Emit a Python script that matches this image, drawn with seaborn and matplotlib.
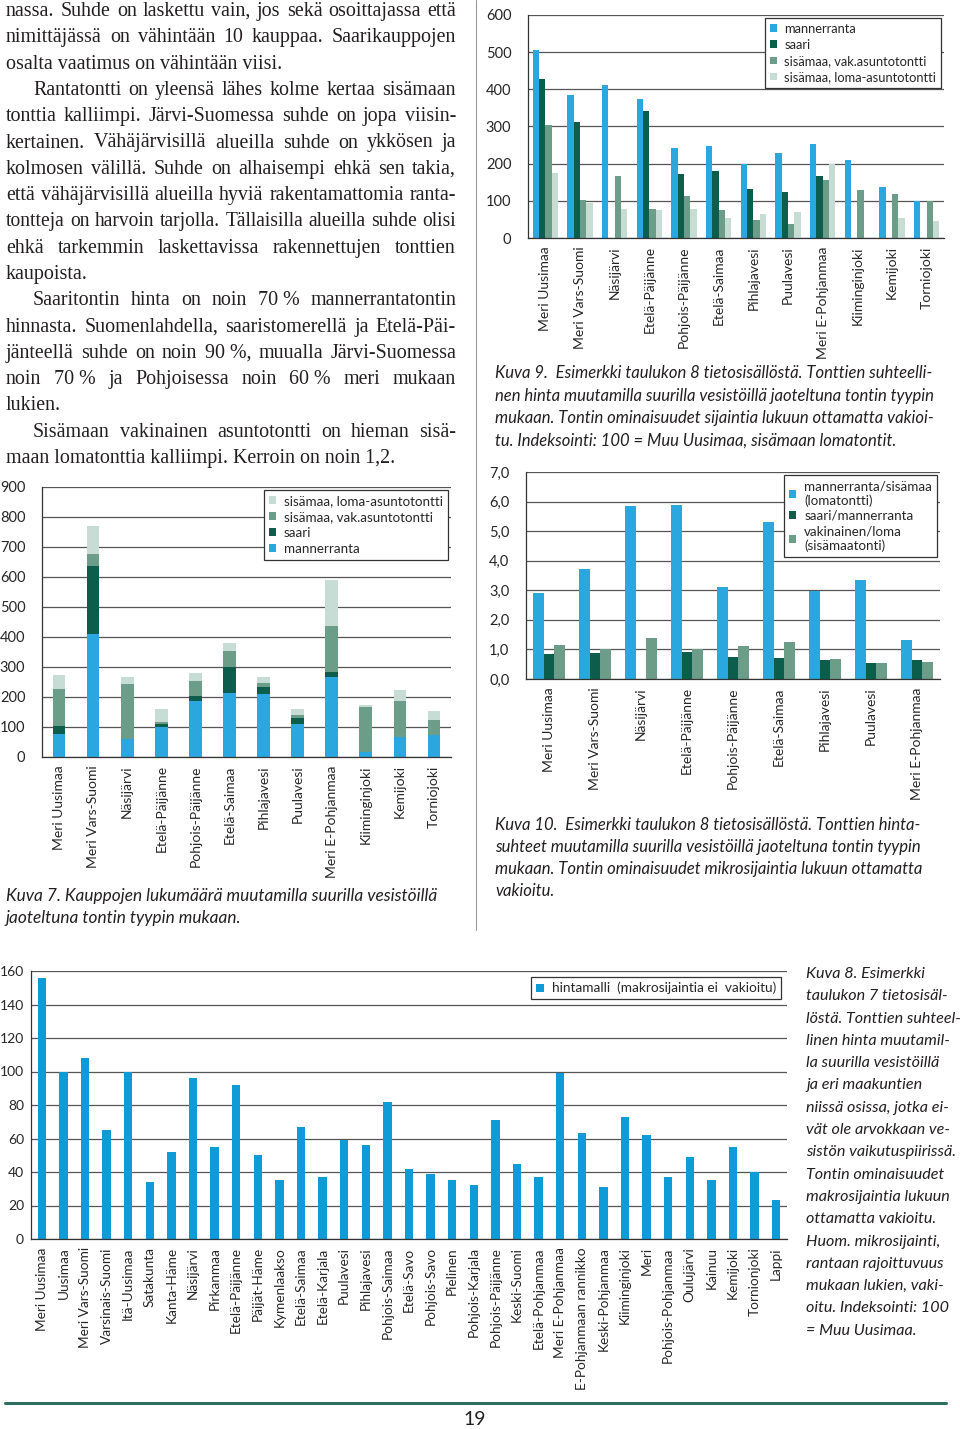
import matplotlib
matplotlib.use("Agg")
import matplotlib.pyplot as plt
from matplotlib.patches import Patch
from matplotlib.lines import Line2D
import numpy as np
import pandas as pd
import seaborn as sns

nan = np.nan

# ---------------- data ----------------
cats7 = ['Meri Uusimaa', 'Meri Vars-Suomi', 'Näsijärvi', 'Etelä-Päijänne',
         'Pohjois-Päijänne', 'Etelä-Saimaa', 'Pihlajavesi', 'Puulavesi',
         'Meri E-Pohjanmaa', 'Kiiminginjoki', 'Kemijoki', 'Torniojoki']
manner7 = [78, 411, 59, 100, 186, 214, 210, 111, 267, 17, 67, 72]
saari7 = [26, 225, 0, 9, 17, 85, 22, 18, 15, 0, 0, 0]
vak7 = [124, 42, 185, 9, 51, 53, 14, 12, 154, 150, 119, 50]
loma7 = [44, 93, 24, 43, 25, 28, 22, 18, 155, 7, 36, 32]
series7 = ['sisämaa, loma-asuntotontti', 'sisämaa, vak.asuntotontti', 'saari', 'mannerranta']
yticks7 = [0, 100, 200, 300, 400, 500, 600, 700, 800, 900]

cats9 = cats7
manner9 = [507, 386, 411, 373, 243, 247, 200, 228, 254, 210, 136, 100]
saari9 = [429, 311, nan, 342, 173, 181, 132, 125, 167, nan, nan, nan]
vak9 = [304, 101, 167, 79, 113, 75, 48, 38, 155, 130, 119, 100]
loma9 = [176, 94, 77, 74, 77, 55, 65, 69, 200, nan, 53, 45]
series9 = ['mannerranta', 'saari', 'sisämaa, vak.asuntotontti', 'sisämaa, loma-asuntotontti']
yticks9 = [0, 100, 200, 300, 400, 500, 600]

cats10 = cats7[:9]
ratio_manner = [2.90, 3.71, 5.84, 5.87, 3.12, 5.30, 2.99, 3.36, 1.33]
ratio_saari = [0.85, 0.89, nan, 0.92, 0.74, 0.72, 0.64, 0.53, 0.65]
ratio_vak = [1.16, 1.00, 1.39, 1.00, 1.11, 1.25, 0.67, 0.53, 0.58]
series10 = ['mannerranta/sisämaa\n(lomatontti)', 'saari/mannerranta', 'vakinainen/loma\n(sisämaatonti)']
yticks10 = [0, 1, 2, 3, 4, 5, 6, 7]
yticklabels10 = ['0,0', '1,0', '2,0', '3,0', '4,0', '5,0', '6,0', '7,0']

cats8 = ['Meri Uusimaa', 'Uusimaa', 'Meri Vars-Suomi', 'Varsinais-Suomi', 'Itä-Uusimaa',
         'Satakunta', 'Kanta-Häme', 'Näsijärvi', 'Pirkanmaa', 'Etelä-Päijänne',
         'Päijät-Häme', 'Kymenlaakso', 'Etelä-Saimaa', 'Etelä-Karjala', 'Puulavesi',
         'Pihlajavesi', 'Pohjois-Saimaa', 'Etelä-Savo', 'Pohjois-Savo', 'Pielinen',
         'Pohjois-Karjala', 'Pohjois-Päijänne', 'Keski-Suomi', 'Etelä-Pohjanmaa',
         'Meri E-Pohjanmaa', 'E-Pohjanmaan rannikko', 'Keski-Pohjanmaa', 'Kiiminginjoki',
         'Meri', 'Pohjois-Pohjanmaa', 'Oulujärvi', 'Kainuu', 'Kemijoki', 'Tornionjoki', 'Lappi']
hinta8 = [156, 100, 108, 65, 100, 34, 52, 96, 55, 92, 50, 35, 67, 37, 59, 56, 82, 42,
          39, 35, 32, 71, 45, 37, 99, 63, 31, 73, 62, 37, 49, 35, 55, 40, 23]
series8 = 'hintamalli  (makrosijaintia ei  vakioitu)'
yticks8 = [0, 20, 40, 60, 80, 100, 120, 140, 160]

body_lines = [
    ("nassa. Suhde on laskettu vain, jos sekä osoittajassa että", True, False),
    ("nimittäjässä on vähintään 10 kauppaa. Saarikauppojen", True, False),
    ("osalta vaatimus on vähintään viisi.", False, False),
    ("Rantatontti on yleensä lähes kolme kertaa sisämaan", True, True),
    ("tonttia kalliimpi. Järvi-Suomessa suhde on jopa viisin-", True, False),
    ("kertainen. Vähäjärvisillä alueilla suhde on ykkösen ja", True, False),
    ("kolmosen välillä. Suhde on alhaisempi ehkä sen takia,", True, False),
    ("että vähäjärvisillä alueilla hyviä rakentamattomia ranta-", True, False),
    ("tontteja on harvoin tarjolla. Tällaisilla alueilla suhde olisi", True, False),
    ("ehkä tarkemmin laskettavissa rakennettujen tonttien", True, False),
    ("kaupoista.", False, False),
    ("Saaritontin hinta on noin 70\u00a0% mannerrantatontin", True, True),
    ("hinnasta. Suomenlahdella, saaristomerellä ja Etelä-Päi-", True, False),
    ("jänteellä suhde on noin 90\u00a0%, muualla Järvi-Suomessa", True, False),
    ("noin 70\u00a0% ja Pohjoisessa noin 60\u00a0% meri mukaan", True, False),
    ("lukien.", False, False),
    ("Sisämaan vakinainen asuntotontti on hieman sisä-", True, True),
    ("maan lomatonttia kalliimpi. Kerroin on noin 1,2.", False, False),
]

cap7 = ["Kuva 7. Kauppojen lukumäärä muutamilla suurilla vesistöillä",
        "jaoteltuna tontin tyypin mukaan."]
cap9 = ["Kuva 9.  Esimerkki taulukon 8 tietosisällöstä. Tonttien suhteelli-",
        "nen hinta muutamilla suurilla vesistöillä jaoteltuna tontin tyypin",
        "mukaan. Tontin ominaisuudet sijaintia lukuun ottamatta vakioi-",
        "tu. Indeksointi: 100 = Muu Uusimaa, sisämaan lomatontit."]
cap10 = ["Kuva 10.  Esimerkki taulukon 8 tietosisällöstä. Tonttien hinta-",
         "suhteet muutamilla suurilla vesistöillä jaoteltuna tontin tyypin",
         "mukaan. Tontin ominaisuudet mikrosijaintia lukuun ottamatta",
         "vakioitu."]
cap8 = ["Kuva 8. Esimerkki", "taulukon 7 tietosisäl-", "löstä. Tonttien suhteel-",
        "linen hinta muutamil-", "la suurilla vesistöillä", "ja eri maakuntien",
        "niissä osissa, jotka ei-", "vät ole arvokkaan ve-", "sistön vaikutuspiirissä.",
        "Tontin ominaisuudet", "makrosijaintia lukuun", "ottamatta vakioitu.",
        "Huom. mikrosijainti,", "rantaan rajoittuvuus", "mukaan lukien, vaki-",
        "oitu. Indeksointi: 100", "= Muu Uusimaa."]
page_no = "19"

# ---------------- style ----------------
sns.set_style("white")
plt.rcParams['font.family'] = ['Lato', 'DejaVu Sans']
plt.rcParams['axes.linewidth'] = 0.9

BLUE = '#2AA7DF'
BLUE2 = '#0E9BD8'
DARK = '#0C5D4B'
MID = '#6C9D89'
LIGHT = '#C6DCD4'
GRID = '#555555'

W, H = 960, 1429
fig = plt.figure(figsize=(W / 100, H / 100), dpi=100)
renderer = fig.canvas.get_renderer()


def fx(x):
    return x / W


def fy(y):
    return 1 - y / H


def axes_px(l, t, r, b):
    return fig.add_axes([fx(l), fy(b), (r - l) / W, (b - t) / H])


def style(ax, cats, ymax, yticks, ylabels, xsize=10, ysize=10.5, ypad=6, ylen=4):
    n = len(cats)
    ax.set_xlim(-0.5, n - 0.5)
    ax.set_ylim(0, ymax)
    ax.set_yticks(yticks)
    ax.set_yticklabels(ylabels)
    ax.yaxis.grid(True, color=GRID, lw=0.9)
    ax.xaxis.grid(False)
    ax.set_axisbelow(True)
    for s in ['top', 'right']:
        ax.spines[s].set_visible(False)
    for s in ['left', 'bottom']:
        ax.spines[s].set_color('#333333')
    ax.set_xlabel('')
    ax.set_ylabel('')
    ax.set_xticks(np.arange(n))
    ax.set_xticklabels(cats, rotation=90, fontsize=xsize)
    ax.set_xticks(np.arange(-0.5, n), minor=True)
    ax.tick_params(axis='x', which='major', length=0, pad=6)
    ax.tick_params(axis='x', which='minor', length=4, color='#333333', width=0.8)
    ax.tick_params(axis='y', length=ylen, pad=ypad, labelsize=ysize, color='#333333', width=0.8)


def legend(ax, labels, colors, fs=9.5, pad=0.25, spacing=0.3):
    handles = [Patch(facecolor=c, edgecolor='none') for c in colors]
    lg = ax.legend(handles, labels, loc='upper right', bbox_to_anchor=(1, 1),
                   fontsize=fs, frameon=True, fancybox=False, framealpha=1,
                   edgecolor='#333333', handlelength=0.55, handleheight=0.55,
                   handletextpad=0.6, labelspacing=spacing, borderpad=0.35,
                   borderaxespad=pad)
    lg.get_frame().set_linewidth(0.9)
    return lg


# ---------------- Kuva 7 (stacked) ----------------
ax7 = axes_px(42, 487, 451, 757)
m = np.array(manner7, float)
s = np.array(saari7, float)
v = np.array(vak7, float)
lo = np.array(loma7, float)
stack_levels = [m + s + v + lo, m + s + v, m + s, m]
stack_colors = [LIGHT, MID, DARK, BLUE]
for vals, col in zip(stack_levels, stack_colors):
    sns.barplot(x=cats7, y=vals, color=col, width=0.37, saturation=1,
                linewidth=0, ax=ax7, errorbar=None)
style(ax7, cats7, 900, yticks7, [str(t) for t in yticks7], ypad=8)
legend(ax7, series7, [LIGHT, MID, DARK, BLUE], fs=9.6)

# ---------------- Kuva 9 (grouped) ----------------
ax9 = axes_px(528, 15, 944, 238)
df9 = pd.DataFrame({
    'cat': cats9 * 4,
    'series': sum([[sname] * len(cats9) for sname in series9], []),
    'val': manner9 + saari9 + vak9 + loma9,
})
sns.barplot(data=df9, x='cat', y='val', hue='series', hue_order=series9,
            palette=[BLUE, DARK, MID, LIGHT], width=0.74, saturation=1,
            linewidth=0, errorbar=None, legend=False, ax=ax9, order=cats9)
style(ax9, cats9, 600, yticks9, [str(t) for t in yticks9], ypad=8)
legend(ax9, series9, [BLUE, DARK, MID, LIGHT], fs=9.3, pad=0.25, spacing=0.32)

# ---------------- Kuva 10 (grouped ratios) ----------------
ax10 = axes_px(526, 472, 940, 679)
df10 = pd.DataFrame({
    'cat': cats10 * 3,
    'series': sum([[sname] * len(cats10) for sname in series10], []),
    'val': ratio_manner + ratio_saari + ratio_vak,
})
sns.barplot(data=df10, x='cat', y='val', hue='series', hue_order=series10,
            palette=[BLUE, DARK, MID], width=0.68, saturation=1,
            linewidth=0, errorbar=None, legend=False, ax=ax10, order=cats10)
style(ax10, cats10, 7, yticks10, yticklabels10, ypad=8)
legend(ax10, series10, [BLUE, DARK, MID], fs=9.6, pad=0.25, spacing=0.25)

# ---------------- Kuva 8 (single series) ----------------
ax8 = axes_px(31, 971, 787, 1239)
sns.barplot(x=cats8, y=hinta8, color=BLUE2, width=0.39, saturation=1,
            linewidth=0, errorbar=None, ax=ax8)
style(ax8, cats8, 160, yticks8, [str(t) for t in yticks8], xsize=9.8,
      ysize=10, ypad=2, ylen=3)
legend(ax8, [series8], [BLUE2], fs=9.8, pad=0.45)

# ---------------- body text ----------------
SERIF = ['Liberation Serif', 'DejaVu Serif']
BODY_SIZE = 14.4


def put_line(text, x0, x1, y, justify, size, **kw):
    full = fig.text(fx(x0), fy(y), text, va='baseline', ha='left', fontsize=size, **kw)
    wfull = full.get_window_extent(renderer).width
    if wfull > (x1 - x0):
        size = size * (x1 - x0) / wfull * 0.995
        full.set_fontsize(size)
    if not justify:
        return
    full.remove()
    words = text.split(' ')
    objs = [fig.text(0, fy(y), w, va='baseline', ha='left', fontsize=size, **kw) for w in words]
    widths = [o.get_window_extent(renderer).width for o in objs]
    gap = (x1 - x0 - sum(widths)) / max(len(words) - 1, 1)
    x = x0
    for o, w in zip(objs, widths):
        o.set_x(fx(x))
        x += w + gap


for i, (txt, just, indent) in enumerate(body_lines):
    y = 16 + 26.3 * i
    x0 = 33 if indent else 6
    put_line(txt, x0, 456, y, just, BODY_SIZE, family=SERIF, color='#231f20')

# ---------------- captions ----------------
CAP = dict(family=['Lato', 'DejaVu Sans'], style='italic', color='#231f20')
for i, t in enumerate(cap7):
    fig.text(fx(6), fy(901 + 22.5 * i), t, va='baseline', ha='left', fontsize=12.4, **CAP)
for i, t in enumerate(cap9):
    fig.text(fx(495), fy(378 + 22.6 * i), t, va='baseline', ha='left', fontsize=12.0, **CAP)
for i, t in enumerate(cap10):
    fig.text(fx(495), fy(830 + 22 * i), t, va='baseline', ha='left', fontsize=12.0, **CAP)
for i, t in enumerate(cap8):
    fig.text(fx(806), fy(978 + 22.3 * i), t, va='baseline', ha='left', fontsize=11.6, **CAP)

fig.text(fx(475), fy(1425), page_no, ha='center', va='baseline',
         family=['Lato', 'DejaVu Sans'], fontsize=14, color='#231f20')

# separators
fig.add_artist(Line2D([fx(476), fx(476)], [fy(0), fy(930)], color='#9a9a9a', lw=0.8))
fig.add_artist(Line2D([fx(5), fx(946)], [fy(1403), fy(1403)], color='#2f6f60', lw=2.2))

fig.savefig('out.png', dpi=100)
